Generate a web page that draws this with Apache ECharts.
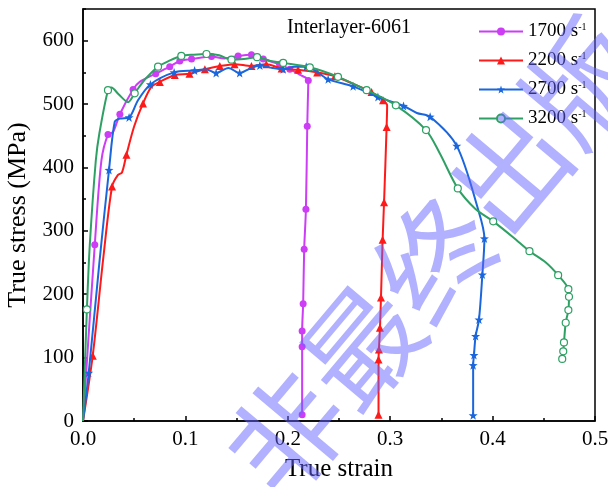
<!DOCTYPE html>
<html>
<head>
<meta charset="utf-8">
<script src="https://cdn.jsdelivr.net/npm/echarts@6/dist/echarts.min.js"></script>
<style>html,body{margin:0;padding:0;background:#fff;overflow:hidden}#c{width:608px;height:487px}</style>
</head>
<body>
<div id="c"></div>
<script>
// ---- data (true strain, true stress MPa) ----
const rateNames = ['1700', '2200', '2700', '3200'];
const xTicks = [0, 0.1, 0.2, 0.3, 0.4, 0.5];
const yTicks = [0, 100, 200, 300, 400, 500, 600];

const curve1700 = [[0,0],[0.0115,278],[0.018,411],[0.0244,452],[0.0293,456],[0.036,484],[0.0489,523],[0.0554,535],[0.071,548],[0.0847,559],[0.0945,568],[0.106,571],[0.1255,575],[0.138,572],[0.1515,576],[0.1645,578],[0.176,571],[0.192,563],[0.202,555],[0.212,546],[0.22,537],[0.2195,500],[0.219,465],[0.2177,334],[0.216,271],[0.215,185],[0.214,142],[0.214,117],[0.214,10]];
const marks1700 = [[0.0115,278],[0.0244,452],[0.036,484],[0.0489,523],[0.071,548],[0.0847,559],[0.0945,568],[0.106,571],[0.1255,575],[0.1515,576],[0.1645,578],[0.176,571],[0.192,563],[0.202,555],[0.22,537],[0.219,465],[0.2177,334],[0.216,271],[0.215,185],[0.214,142],[0.214,117],[0.214,10]];

const curve2200 = [[0,0],[0.0095,103],[0.02,260],[0.0284,370],[0.034,388],[0.038,392],[0.0424,420],[0.05,465],[0.0586,501],[0.0668,527],[0.075,535],[0.0896,546],[0.104,548],[0.119,555],[0.1336,560],[0.148,563],[0.1645,560],[0.179,563],[0.194,556],[0.21,554],[0.2287,550],[0.246,544],[0.265,531],[0.2818,519],[0.293,506],[0.297,498],[0.2965,464],[0.294,345],[0.2926,286],[0.291,195],[0.290,147],[0.289,113],[0.2886,97],[0.2886,10]];
const marks2200 = [[0.0095,103],[0.0284,370],[0.0424,420],[0.0586,501],[0.075,535],[0.0896,546],[0.104,548],[0.119,555],[0.1336,560],[0.148,563],[0.1645,560],[0.179,563],[0.194,556],[0.21,554],[0.2287,550],[0.246,544],[0.2818,519],[0.293,506],[0.2965,464],[0.294,345],[0.2926,286],[0.291,195],[0.290,147],[0.289,113],[0.2886,97],[0.2886,10]];

const curve2700 = [[0,0],[0.0056,76],[0.016,250],[0.0254,396],[0.031,472],[0.036,477],[0.045,479],[0.0537,506],[0.0658,531],[0.089,550],[0.109,553],[0.12,555],[0.13,549],[0.142,557],[0.153,549],[0.163,556],[0.1727,561],[0.185,557],[0.1955,555],[0.207,559],[0.218,559],[0.2394,539],[0.2638,528],[0.288,511],[0.313,497],[0.326,486],[0.339,480],[0.365,434],[0.386,333],[0.392,288],[0.390,231],[0.3867,160],[0.3834,134],[0.3818,104],[0.381,88],[0.381,9]];
const marks2700 = [[0.0056,76],[0.0254,396],[0.045,479],[0.0658,531],[0.089,550],[0.109,553],[0.13,549],[0.153,549],[0.1727,561],[0.1955,555],[0.218,559],[0.2394,539],[0.2638,528],[0.288,511],[0.313,497],[0.339,480],[0.365,434],[0.392,288],[0.390,231],[0.3867,160],[0.3834,134],[0.3818,104],[0.381,88],[0.381,9]];

const curve3200 = [[0,0],[0.0038,176],[0.0066,277],[0.0125,411],[0.016,454],[0.0244,522],[0.0277,526],[0.035,515],[0.044,503],[0.0505,517],[0.06,538],[0.0733,559],[0.085,569],[0.096,576],[0.108,578],[0.1206,579],[0.133,577],[0.145,570],[0.157,571],[0.170,574],[0.183,568],[0.1955,565],[0.2215,558],[0.249,543],[0.277,522],[0.3055,498],[0.335,459],[0.3485,422],[0.366,367],[0.383,335],[0.4006,315],[0.42,290],[0.436,268],[0.452,250],[0.464,230],[0.474,208],[0.4746,196],[0.474,175],[0.4714,155],[0.4697,124],[0.469,110],[0.468,98]];
const marks3200 = [[0.0038,176],[0.0244,522],[0.0505,517],[0.0733,559],[0.096,576],[0.1206,579],[0.145,570],[0.170,574],[0.1955,565],[0.2215,558],[0.249,543],[0.277,522],[0.3055,498],[0.335,459],[0.366,367],[0.4006,315],[0.436,268],[0.464,230],[0.474,208],[0.4746,196],[0.474,175],[0.4714,155],[0.4697,124],[0.469,110],[0.468,98]];

const curves = [curve1700, curve2200, curve2700, curve3200];
const marks = [marks1700, marks2200, marks2700, marks3200];

// ---- styles ----
const colors = ['#CC3DF5', '#FF1A1A', '#1A66DD', '#2FA064'];
const starPath = 'path://M0,-10 L2.35,-3.24 L9.51,-3.09 L3.8,1.24 L5.88,8.09 L0,4 L-5.88,8.09 L-3.8,1.24 L-9.51,-3.09 L-2.35,-3.24 Z';
const symbols = ['circle', 'triangle', starPath, 'circle'];
const symSizes = [7, 8, 9, 7];
const serif = '"Liberation Serif", "Times New Roman", serif';

const series = [];
rateNames.forEach((n, i) => {
  series.push({
    name: n, type: 'line', data: curves[i], smooth: 0.3,
    showSymbol: false, symbol: symbols[i], symbolSize: symSizes[i],
    lineStyle: { color: colors[i], width: 2 },
    itemStyle: i === 3 ? { color: '#fff', borderColor: colors[i], borderWidth: 1.2 } : { color: colors[i] },
    z: 2 + i
  });
});
rateNames.forEach((n, i) => {
  series.push({
    name: n, type: 'scatter', data: marks[i],
    symbol: symbols[i], symbolSize: symSizes[i],
    itemStyle: i === 3 ? { color: '#fff', borderColor: colors[i], borderWidth: 1.2, opacity: 1 } : { color: colors[i], opacity: 1 },
    z: 2 + i
  });
});

const chart = echarts.init(document.getElementById('c'), null, { renderer: 'canvas' });
chart.setOption({
  animation: false,
  backgroundColor: '#fff',
  grid: { left: 83, right: 13, top: 9, bottom: 66, outerBoundsMode: 'none', containLabel: false,
    show: true, borderColor: '#000', borderWidth: 1.5, backgroundColor: 'transparent' },
  xAxis: {
    type: 'value', min: xTicks[0], max: xTicks[xTicks.length - 1], interval: 0.1,
    name: 'True strain', nameLocation: 'middle', nameGap: 36,
    nameTextStyle: { fontFamily: serif, fontSize: 25, color: '#000' },
    axisLine: { lineStyle: { color: '#000', width: 1.5 } },
    axisTick: { inside: true, length: 5, lineStyle: { color: '#000', width: 1.5 } },
    minorTick: { show: true, splitNumber: 2, length: 3, lineStyle: { color: '#000', width: 1.5 } },
    axisLabel: { fontFamily: serif, fontSize: 21, color: '#000', margin: 8, formatter: v => v.toFixed(1) },
    splitLine: { show: false }
  },
  yAxis: [{
    type: 'value', min: yTicks[0], max: 650, interval: 100,
    name: 'True stress (MPa)', nameLocation: 'middle', nameGap: 43,
    nameTextStyle: { fontFamily: serif, fontSize: 26, color: '#000' },
    axisLine: { lineStyle: { color: '#000', width: 1.5 } },
    axisTick: { inside: true, length: 5, lineStyle: { color: '#000', width: 1.5 } },
    axisLabel: { fontFamily: serif, fontSize: 21, color: '#000', margin: 9, showMaxLabel: false,
      formatter: v => (yTicks.indexOf(v) >= 0 ? String(v) : '') },
    splitLine: { show: false }
  }, {
    type: 'value', min: 0, max: 650, interval: 50, position: 'left',
    axisLine: { show: false },
    axisTick: { show: true, inside: true, length: 3, lineStyle: { color: '#000', width: 1.5 } },
    axisLabel: { show: false }, splitLine: { show: false }
  }],
  legend: {
    data: rateNames, orient: 'vertical', left: 473, top: 17,
    itemWidth: 44, itemHeight: 10, itemGap: 10,
    textStyle: { fontFamily: serif, fontSize: 19, color: '#000',
      rich: { sup: { fontFamily: serif, fontSize: 10, verticalAlign: 'top', padding: [0, 0, 6, 0] } } },
    formatter: n => n + ' s{sup|-1}'
  },
  graphic: [{
    type: 'text', left: 287, top: 18,
    style: { text: 'Interlayer-6061', font: '20px ' + serif, fill: '#000' }
  }, {
    type: 'text', x: 435, y: 258, rotation: 0.87, z: 100, silent: true,
    style: { text: '非最终出版', font: '115px "Noto Sans CJK SC"', fill: 'rgba(100,100,255,0.5)', align: 'center', verticalAlign: 'middle' }
  }],
  series: series
});
</script>
</body>
</html>
